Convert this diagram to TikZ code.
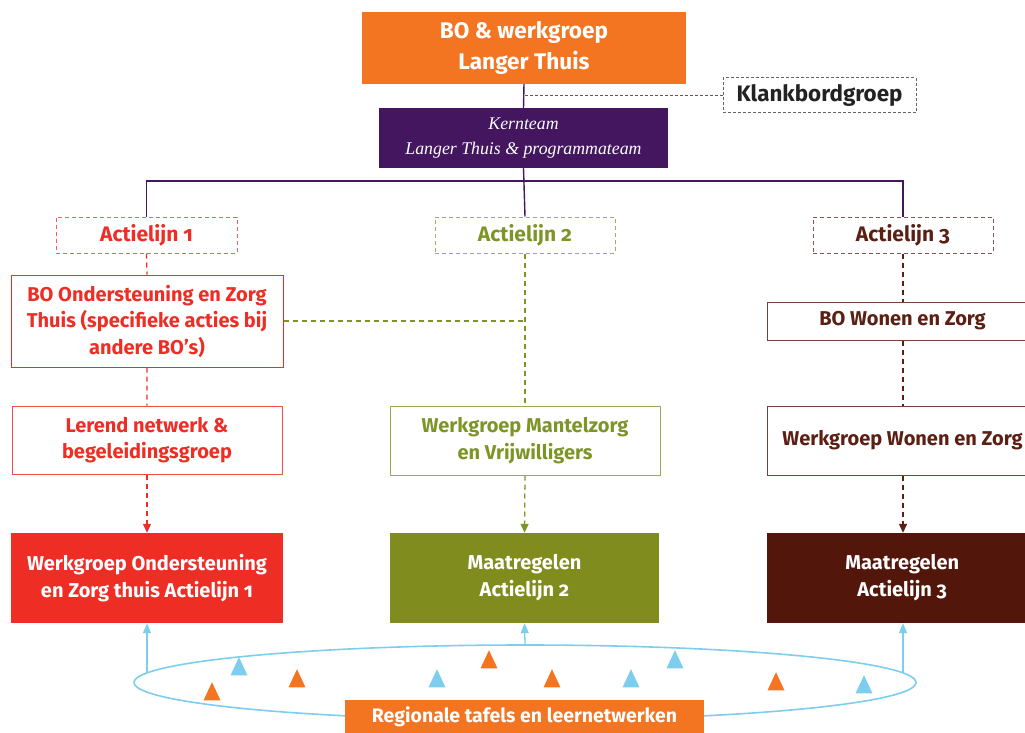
\documentclass[tikz,border=0pt]{standalone}
\usepackage{fontspec}
\setmainfont{Fira Sans}[Numbers=OldStyle]
\newfontfamily\kernfont{Liberation Serif}
\usetikzlibrary{positioning,shapes.geometric,arrows.meta}
\definecolor{lto}{HTML}{F37421}
\definecolor{ltp}{HTML}{43165F}
\definecolor{ltr}{HTML}{EE2D25}
\definecolor{ltg}{HTML}{818C1E}
\definecolor{ltgt}{HTML}{7D9527}
\definecolor{ltb}{HTML}{52160A}
\definecolor{ltbt}{HTML}{5B1F13}
\definecolor{ltc}{HTML}{7DCDEF}
\definecolor{ltk}{HTML}{222222}
\begin{document}
\begin{tikzpicture}[x=1pt,y=-1pt,
   box/.style={draw=#1,line width=1pt,inner sep=2pt,align=center,font=\bfseries\fontsize{20}{26.5}\selectfont},
   lijn/.style={box=#1!75,dashed,dash pattern=on 4pt off 3pt,font=\bfseries\fontsize{21}{22}\selectfont},
   mat/.style={fill=#1,text=white,inner sep=2pt,align=center,font=\bfseries\fontsize{20}{27}\selectfont},
   tri/.style={isosceles triangle,isosceles triangle apex angle=50,shape border rotate=90,fill=#1,
     inner sep=0pt,minimum height=18pt,minimum width=17pt},
   pijl/.style={dashed,dash pattern=on 5pt off 4pt,line width=1.3pt,#1,-{Triangle[width=8pt,length=9pt]}},
   stip/.style={dashed,dash pattern=on 5pt off 4pt,line width=1.3pt,#1}]
 \useasboundingbox (0,0) rectangle (1025,733);
 % top
 \node[mat=lto,minimum width=324pt,minimum height=72pt,font=\bfseries\fontsize{22.6}{31}\selectfont]
   (top) at (524,48) {BO \& werkgroep\\Langer Thuis};
 \node[draw=ltk!70,dashed,dash pattern=on 3pt off 2pt,line width=1pt,minimum width=193pt,minimum height=35pt,
   text=ltk,font=\bfseries\fontsize{22.4}{24}\selectfont] (klank) at (819.5,95.5) {Klankbordgroep};
 \node[mat=ltp,minimum width=289pt,minimum height=60pt,font=\kernfont\itshape\fontsize{17.8}{25}\selectfont]
   (kern) at (523.5,138) {Kernteam\\Langer Thuis \& programmateam};
 % actielijnen
 \node[lijn=ltr,text=ltr,minimum width=181pt,minimum height=36pt] (act1) at (146.5,235) {Actielijn 1};
 \node[lijn=ltgt,text=ltgt,minimum width=180pt,minimum height=36pt] (act2) at (525,235) {Actielijn 2};
 \node[lijn=ltbt,text=ltbt,minimum width=180pt,minimum height=36pt] (act3) at (903,235) {Actielijn 3};
 \node[box=ltr,text=ltr,minimum width=272pt,minimum height=92pt] (bo1) at (147,321)
   {BO Ondersteuning en Zorg\\Thuis (specifieke acties bij\\andere BO’s)};
 \node[box=ltr!85,text=ltr,minimum width=270pt,minimum height=68pt] (ler1) at (147,440)
   {Lerend netwerk \&\\begeleidingsgroep};
 \node[box=ltgt!80,text=ltgt,minimum width=270pt,minimum height=69pt] (wm2) at (525,440.5)
   {Werkgroep Mantelzorg\\en Vrijwilligers};
 \node[box=ltbt!85,text=ltbt,minimum width=270pt,minimum height=38pt,anchor=west] (bo3) at (767,321)
   {BO Wonen en Zorg};
 \node[box=ltbt!85,text=ltbt,minimum width=270pt,minimum height=69pt,anchor=west] (ww3) at (767,440.5)
   {Werkgroep Wonen en Zorg};
 % maatregelen
 \node[mat=ltr,minimum width=272pt,minimum height=90pt] (m1) at (147,578)
   {Werkgroep Ondersteuning\\en Zorg thuis Actielijn 1};
 \node[mat=ltg,minimum width=269pt,minimum height=90pt] (m2) at (524.5,578) {Maatregelen\\Actielijn 2};
 \node[mat=ltb,minimum width=270pt,minimum height=90pt,anchor=west] (m3) at (767,578) {Maatregelen\\Actielijn 3};
 % lijnen
 \draw[ltp,line width=1.4pt] (top.south) -- (kern.north) (kern.south) -- (act2.north);
 \coordinate (bus) at (525,181);
 \draw[ltp,line width=1.4pt] (act1.north) |- (bus) -| (act3.north);
 \draw[stip=ltbt!80,dash pattern=on 3pt off 2pt,line width=1.1pt] (klank.west) -- (klank.west -| top.south);
 \draw[stip=ltr] (act1.south) -- (bo1.north) (bo1.south) -- (ler1.north);
 \draw[pijl=ltr] (ler1.south) -- (m1.north);
 \draw[stip=ltgt] (act2.south) -- (wm2.north) (bo1.east) -- (bo1.east -| act2.south);
 \draw[pijl=ltgt] (wm2.south) -- (m2.north);
 \draw[stip=ltbt] (act3.south) -- (act3.south |- bo3.north) (act3.south |- bo3.south) -- (act3.south |- ww3.north);
 \draw[pijl=ltbt] (act3.south |- ww3.south) -- (act3.south |- m3.north);
 % regionale tafels
 \node[ellipse,draw=ltc,line width=1.6pt,minimum width=782pt,minimum height=75pt] (ring) at (525,682.5) {};
 \coordinate (r1) at (147,673);
 \coordinate (r3) at (903,673);
 \foreach \A/\B in {r1/m1.south,ring.north/m2.south,r3/m3.south-|act3.south}
  \draw[ltc,line width=1.3pt,-{Triangle[width=8pt,length=10pt]}] (\A) -- (\B);
 \foreach \X/\Y in {212/695,297/682,489/663,552/682,776/685}
  \node[tri=lto] at (\X,\Y) {};
 \foreach \X/\Y in {239/670,437/682,631/682,675/663,864/688}
  \node[tri=ltc] at (\X,\Y) {};
 \node[mat=lto,minimum width=359pt,minimum height=33pt,font=\bfseries\fontsize{19.5}{20}\selectfont]
   (reg) at (524.5,716.5) {Regionale tafels en leernetwerken};
\end{tikzpicture}
\end{document}
